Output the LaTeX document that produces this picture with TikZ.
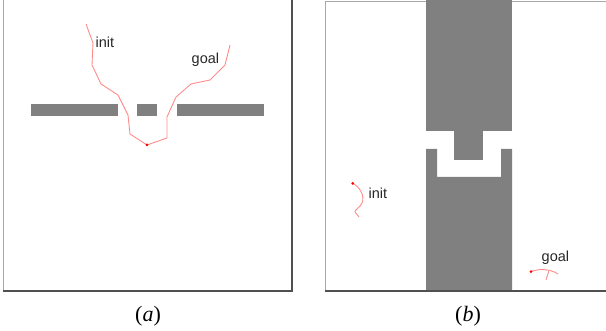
\documentclass[tikz,border=0pt]{standalone}
\usepackage{fontspec}
\setmainfont{Liberation Serif}
\newfontfamily\lblfont{Liberation Sans}
\definecolor{obst}{HTML}{808080}
\definecolor{pathred}{HTML}{FF8C8C}
\definecolor{frameL}{HTML}{A8A8A8}
\definecolor{frameD}{HTML}{505050}
\tikzset{
  obstacle/.style={fill=obst, draw=none},
  trail/.style={draw=pathred, line width=0.9pt, line join=round},
  startdot/.style={fill=red, circle, inner sep=0pt, minimum size=3pt},
  lbl/.style={font=\lblfont\fontsize{14.5}{16}\selectfont, inner sep=0pt, anchor=base west, text=black!85},
  caption/.style={font=\fontsize{22}{24}\selectfont, inner sep=0pt, anchor=base},
  frameLight/.style={draw=frameL, line width=0.9pt},
  frameDark/.style={draw=frameD, line width=1.1pt}
}
\begin{document}
\begin{tikzpicture}[x=1pt,y=-1pt]
\useasboundingbox (0,0) rectangle (606,331);
% ---------- panel (a) ----------
\draw[frameLight] (3,291) -- (3,0);
\draw[frameDark] (292,0) -- (292,291) -- (3,291);
\fill[obstacle] (31,104) rectangle (118,116);
\fill[obstacle] (137,104) rectangle (157,116);
\fill[obstacle] (177,104) rectangle (264,116);
\coordinate (ameet) at (147,145);
\draw[trail] (86,24) -- (93,43) -- (92,65) -- (101,84) -- (118,95) -- (128,115) -- (130,134) -- (ameet);
\draw[trail] (230,45) -- (225,65) -- (210,80) -- (191,84) -- (176,97) -- (167,117) -- (167,138) -- (ameet);
\node[startdot] (adot) at (ameet) {};
\node[lbl] (ainit) at (95.5,48) {init};
\node[lbl] (agoal) at (191.5,64) {goal};
\node[caption] (capa) at (148,321.5) {(\textit{a})};
% ---------- panel (b) ----------
\draw[frameLight] (325,291) -- (325,1) -- (606,1);
\draw[frameDark] (325,291) -- (606,291);
\fill[obstacle] (426,0) rectangle (512,131);
\fill[obstacle] (454,131) rectangle (483,160);
\fill[obstacle] (426,149) -- (437,149) -- (437,177) -- (501,177) -- (501,149) -- (512,149) -- (512,291) -- (426,291) -- cycle;
\draw[frameDark] (426,291) -- (512,291);
\draw[trail] (352.7,183.3) .. controls (360,187) and (365,196) .. (362,203)
  .. controls (360,208) and (354,210) .. (355,212) -- (359,217);
\node[startdot] (bdot1) at (352.7,183.3) {};
\draw[trail] (531,271.7) .. controls (537,269) and (549,268) .. (558,274);
\draw[trail] (549,270.5) -- (546,280);
\node[startdot] (bdot2) at (531,271.7) {};
\node[lbl] (binit) at (368.5,199) {init};
\node[lbl] (bgoal) at (541.5,262) {goal};
\node[caption] (capb) at (468,321.5) {(\textit{b})};
\end{tikzpicture}
\end{document}
